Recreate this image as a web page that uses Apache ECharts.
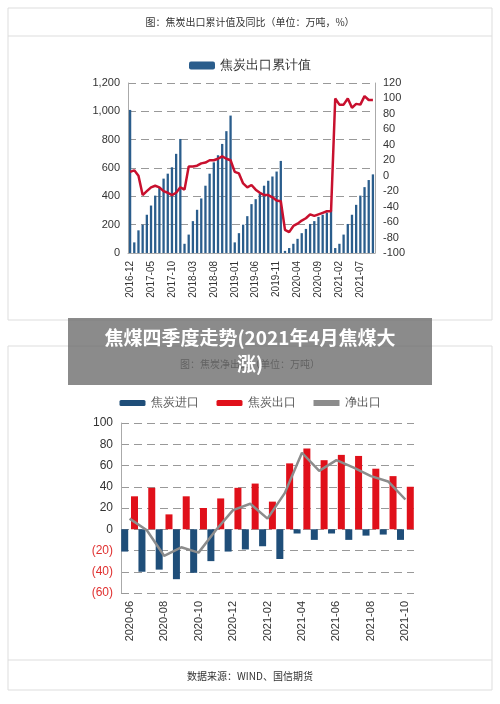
<!DOCTYPE html>
<html><head><meta charset="utf-8">
<script src="https://cdn.jsdelivr.net/npm/echarts@6/dist/echarts.min.js"></script>
<style>html,body{margin:0;padding:0;background:#fff}#c{width:500px;height:704px}</style>
</head><body><div id="c"></div>
<script>
const months1 = [];
(function(){let y=2016,m=12;for(let i=0;i<59;i++){months1.push(y+'-'+String(m).padStart(2,'0'));m++;if(m>12){m=1;y++;}}})();
const cumExport = [1010,
 75,160,200,270,335,405,460,525,560,605,700,805,
 65,130,225,305,385,475,560,640,690,770,860,970,
 75,140,200,260,345,380,420,475,510,540,575,650,
 15,35,65,100,140,170,205,225,255,270,285,300,
 35,65,130,205,270,340,405,465,515,555];
const yoy = [5,
 7,0,-25,-20,-15,-13,-15,-20,-22,-25,-22,-15,
 -18,12,12,13,16,17,20,20,22,25,22,20,
 5,3,-10,-15,-12,-18,-22,-25,-25,-28,-32,-33,
 -70,-73,-65,-62,-58,-55,-50,-52,-50,-48,-46,-46,
 100,92,92,100,88,93,92,103,98,98];
const months2 = ['2020-06','2020-07','2020-08','2020-09','2020-10','2020-11','2020-12','2021-01','2021-02','2021-03','2021-04','2021-05','2021-06','2021-07','2021-08','2021-09','2021-10'];
const imports = [-21,-40,-38,-47,-41,-30,-21,-19,-16,-28,-4,-10,-4,-10,-6,-5,-10];
const exportsV = [31,39,14,31,20,29,39,43,26,62,76,65,70,69,57,50,40];
const net = [10,-1,-25,-17,-22,-1,18,24,10,34,72,55,65,58,50,45,28];

const ch = echarts.init(document.getElementById('c'));
const dash = {lineStyle:{type:[8,5],color:'#999',width:1}};
const axLbl = {color:'#333',fontSize:11,fontFamily:'Liberation Sans'};
ch.setOption({
 animation:false,
 graphic:[
  {type:'rect',shape:{x:8,y:8,width:484,height:312},style:{fill:'none',stroke:'#ddd'}},
  {type:'line',shape:{x1:8,y1:36,x2:492,y2:36},style:{stroke:'#ddd'}},
  {type:'text',x:250,y:22,style:{text:'图：焦炭出口累计值及同比（单位：万吨，%）',fill:'#333',font:'10px "Noto Sans CJK SC"',align:'center',verticalAlign:'middle'}},
  {type:'rect',shape:{x:8,y:346,width:484,height:344},style:{fill:'none',stroke:'#ddd'}},
  {type:'line',shape:{x1:8,y1:660,x2:492,y2:660},style:{stroke:'#ddd'}},
  {type:'text',x:250,y:364,style:{text:'图：焦炭净出口（单位：万吨）',fill:'#333',font:'10px "Noto Sans CJK SC"',align:'center',verticalAlign:'middle'}},
  {type:'text',x:250,y:676,style:{text:'数据来源：WIND、国信期货',fill:'#333',font:'10px "Noto Sans CJK SC"',align:'center',verticalAlign:'middle'}},
  {type:'rect',z:100,shape:{x:68,y:318,width:364,height:67},style:{fill:'rgba(110,110,110,0.8)'}},
  {type:'text',z:101,x:250,y:351,style:{text:'焦煤四季度走势(2021年4月焦煤大\n涨)',fill:'#fff',font:'bold 19px "Noto Sans CJK SC"',align:'center',verticalAlign:'middle',lineHeight:26}}
 ],
 legend:[
  {top:54,left:'center',itemWidth:26,itemHeight:8,data:['焦炭出口累计值'],textStyle:{fontSize:13,color:'#333'}},
  {top:392,left:'center',itemWidth:26,itemHeight:6,itemGap:18,data:['焦炭进口','焦炭出口',{name:'净出口',icon:'rect'}],textStyle:{fontSize:12,color:'#555'}}
 ],
 grid:[
  {left:128,right:125,top:83,height:170},
  {left:121,right:86,top:423,height:170}
 ],
 xAxis:[
  {gridIndex:0,type:'category',data:months1,axisTick:{show:false},axisLine:{lineStyle:{color:'#aaa'}},axisLabel:{...axLbl,rotate:90,interval:4,fontSize:10}},
  {gridIndex:1,type:'category',data:months2,axisTick:{show:false},axisLine:{onZero:false,show:false},axisLabel:{...axLbl,rotate:90,interval:1,fontSize:11}}
 ],
 yAxis:[
  {gridIndex:0,min:0,max:1200,interval:200,axisLine:{show:true,lineStyle:{color:'#aaa'}},splitLine:dash,axisLabel:{...axLbl,formatter:v=>v.toLocaleString('en-US')}},
  {gridIndex:0,min:-100,max:120,interval:20,position:'right',axisLine:{show:true,lineStyle:{color:'#aaa'}},splitLine:{show:false},axisLabel:axLbl},
  {gridIndex:1,min:-60,max:100,interval:20,axisLine:{show:true,lineStyle:{color:'#aaa'}},splitLine:dash,
   axisLabel:{...axLbl,fontSize:12,formatter:v=>v<0?'('+(-v)+')':String(v),color:v=>v<0?'#e03030':'#333'}}
 ],
 series:[
  {name:'焦炭出口累计值',type:'bar',xAxisIndex:0,yAxisIndex:0,data:cumExport,barWidth:'55%',itemStyle:{color:'#2a5d8c'}},
  {name:'同比',type:'line',xAxisIndex:0,yAxisIndex:1,data:yoy,symbol:'none',lineStyle:{color:'#c8102e',width:2.5},itemStyle:{color:'#c8102e'}},
  {name:'焦炭进口',type:'bar',xAxisIndex:1,yAxisIndex:2,data:imports,barWidth:7,barGap:'40%',itemStyle:{color:'#1f4e79'}},
  {name:'焦炭出口',type:'bar',xAxisIndex:1,yAxisIndex:2,data:exportsV,barWidth:7,itemStyle:{color:'#e0101a'}},
  {name:'净出口',type:'line',xAxisIndex:1,yAxisIndex:2,data:net,symbol:'none',lineStyle:{color:'#8c8c8c',width:2.5},itemStyle:{color:'#8c8c8c'}}
 ]
});
</script></body></html>
